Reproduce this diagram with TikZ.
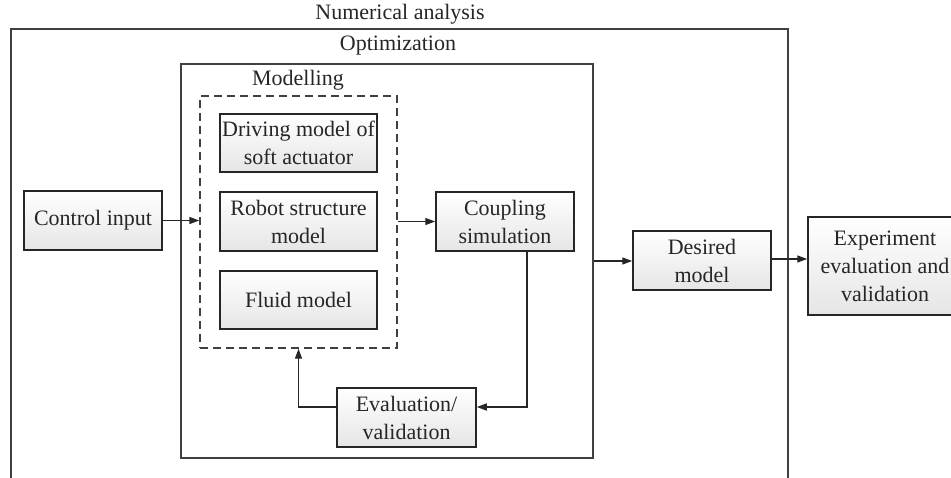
\documentclass[tikz,border=0pt]{standalone}
\usepackage{fontspec}
\setmainfont{Liberation Serif}
\usetikzlibrary{arrows.meta,calc}
\begin{document}
\begin{tikzpicture}[x=1pt,y=-1pt,
  every node/.style={font=\fontsize{22}{28}\selectfont, text=black!85},
  frame/.style={draw=black!75, line width=1.3pt, rectangle, inner sep=0pt},
  block/.style={draw=black!85, line width=1.5pt, rectangle, inner sep=0pt, align=center,
     top color=white, bottom color=black!10, minimum width=138pt, minimum height=59pt},
  dashbox/.style={draw=black!75, line width=1.4pt, dash pattern=on 8pt off 5pt, rectangle, inner sep=0pt},
  caption/.style={inner sep=0pt},
  arr/.style={draw=black!85, line width=1.4pt, -{Triangle[length=10pt,width=7pt]}}
]
\useasboundingbox (0,0) rectangle (951,477);
\clip (0,0) rectangle (951,477);
% containers
\node[frame, minimum width=777pt, minimum height=471pt] (numa) at (399.5,264.5) {};
\node[caption] (numalbl) at (400,14) {Numerical analysis};
\node[frame, minimum width=412pt, minimum height=394pt] (opt) at (387,261) {};
\node[caption] (optlbl) at (398,46) {Optimization};
\node[dashbox, minimum width=197pt, minimum height=252pt] (mod) at (298.5,222) {};
\node[caption] (modlbl) at (298,80) {Modelling};
% blocks
\node[block, minimum width=157pt, minimum height=58pt] (drive) at (298.5,143) {Driving model of\\soft actuator};
\node[block, minimum width=157pt] (robot) at (298.5,221.5) {Robot structure\\model};
\node[block, minimum width=157pt, minimum height=58pt] (fluid) at (298.5,300) {Fluid model};
\node[block] (ctrl) at (93,220.5) {Control input};
\node[block] (coup) at (505,221.5) {Coupling\\simulation};
\node[block, minimum width=139pt] (eval) at (406.5,417.5) {Evaluation/\\validation};
\node[block] (des) at (702,260.5) {Desired\\model};
\node[block, minimum width=154pt, minimum height=98pt] (exp) at (885,266) {Experiment\\evaluation and\\validation};
% connectors
\coordinate (c1) at (527,407);
\coordinate (c2) at (298.5,407);
\coordinate (c3) at (771,259);
\draw[arr] (ctrl.east) -- (ctrl.east -| mod.west);
\draw[arr] (mod.east |- robot) -- (coup.west);
\draw[arr] (coup.south -| c1) -- (c1) -- (c1 -| eval.east);
\draw[arr] (c2 -| eval.west) -- (c2) -- (mod.south);
\draw[arr] (opt.east) -- (opt.east -| des.west);
\draw[arr] (c3) -- (c3 -| exp.west);
\end{tikzpicture}
\end{document}
